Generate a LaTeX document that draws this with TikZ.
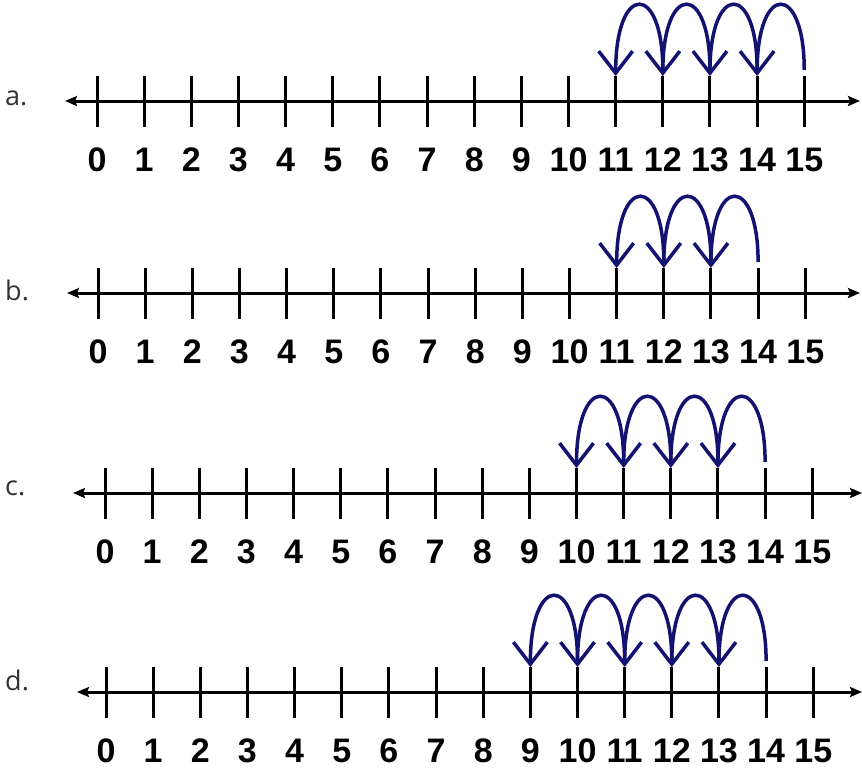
\documentclass[tikz,border=0pt]{standalone}
\usepackage{fontspec}
\setmainfont{Open Sans}
\setsansfont{Liberation Sans}
\usetikzlibrary{arrows.meta,calc}
\definecolor{jumpblue}{RGB}{18,18,112}

\begin{document}
\begin{tikzpicture}[
  x=1pt, y=-1pt,
  axis/.style={line width=3pt, {Stealth[length=12pt,width=10pt,inset=2pt]}-{Stealth[length=12pt,width=10pt,inset=2pt]}},
  tick/.style={line width=3pt},
  num/.style={font=\sffamily\bfseries\fontsize{34}{34}\selectfont, inner sep=0pt, anchor=base},
  lab/.style={font=\fontsize{27}{27}\selectfont, text=black!80, inner sep=0pt, anchor=base west},
  jump/.style={draw=jumpblue, line width=3.5pt, -{Straight Barb[length=22pt,width=34pt]}}
]
\useasboundingbox (0,0) rectangle (862,771);

% row / axis y / tick 0 x / left tip / right tip / jumps from..to / label baseline
\foreach \row/\ly/\lx/\lt/\rt/\lo/\hi/\lb in {a/101/97/65/860/12/15/105, b/293/98/67/860/12/14/300, c/493/105/73/862/11/14/495, d/692/106/77/862/10/14/690}{
  \node[lab] (lab-\row) at (5,\lb) {\row.};
  \coordinate (\row-L) at (\lt,\ly);
  \coordinate (\row-R) at (\rt,\ly);
  \draw[axis] (\row-L) -- (\row-R);
  % ticks and numbers
  \foreach \i in {0,...,15}{
    \coordinate (\row-\i) at (\lx+\i*47.15,\ly);
    \draw[tick] ($(\row-\i)+(0,-25)$) -- ($(\row-\i)+(0,26)$);
    \node[num] (\row-n\i) at ($(\row-\i)+(0,70)$) {\i};
  }
  % jumps back by one
  \foreach \k [evaluate=\k as \m using int(\k-1)] in {\lo,...,\hi}
    \draw[jump] ($(\row-\k)+(0,-31)$) .. controls +(0,-88) and +(0,-94) .. ($(\row-\m)+(0,-25)$);
}
\end{tikzpicture}
\end{document}
